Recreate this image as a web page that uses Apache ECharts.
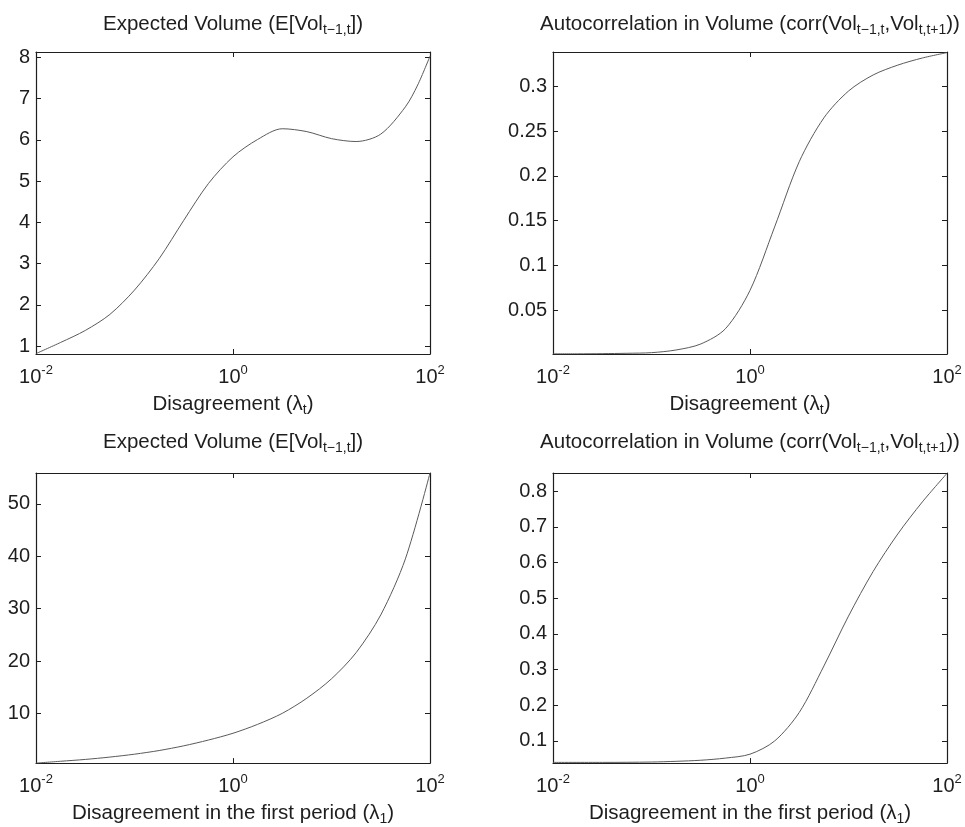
<!doctype html>
<html>
<head>
    <meta charset="utf-8">
    <title>Volume and disagreement</title>
    <script src="https://cdn.jsdelivr.net/npm/echarts@6/dist/echarts.min.js"></script>
</head>
<body style="margin:0;background:#fff;">
    <div id="main" style="width:965px;height:827px;"></div>
    <script type="text/javascript">
        // x values are log10(lambda)
        var tlExp = [-2, -1.75, -1.5, -1.25, -1, -0.75, -0.5, -0.25, 0, 0.25, 0.5, 0.75, 1, 1.25, 1.5, 1.75, 1.875, 2];
        var tlVol = [0.82, 1.09, 1.38, 1.77, 2.36, 3.12, 4.05, 4.94, 5.59, 6.01, 6.27, 6.20, 6.03, 5.96, 6.14, 6.80, 7.33, 8.03];

        var trExp = [-2, -1.75, -1.5, -1.25, -1, -0.75, -0.5, -0.25, 0, 0.25, 0.5, 0.75, 1, 1.25, 1.5, 1.75, 2];
        var trCorr = [0.001, 0.001, 0.0012, 0.0016, 0.0023, 0.0053, 0.012, 0.029, 0.072, 0.143, 0.216, 0.265, 0.295, 0.313, 0.324, 0.332, 0.338];

        var blExp = [-2, -1.75, -1.5, -1.25, -1, -0.75, -0.5, -0.25, 0, 0.25, 0.5, 0.75, 1, 1.25, 1.5, 1.75, 2];
        var blVol = [0.5, 0.85, 1.2, 1.65, 2.2, 2.9, 3.8, 4.9, 6.2, 7.9, 10.0, 12.9, 16.6, 21.6, 28.8, 39.5, 55.9];

        var brExp = [-2, -1.5, -1, -0.75, -0.5, -0.25, 0, 0.25, 0.5, 0.75, 1, 1.25, 1.5, 1.75, 2];
        var brCorr = [0.040, 0.040, 0.041, 0.043, 0.046, 0.052, 0.063, 0.10, 0.18, 0.31, 0.45, 0.575, 0.68, 0.77, 0.85];

        var FONT = '"Liberation Sans", Arial, Helvetica, sans-serif';
        var INK = '#1e1e1e';

        var chart = echarts.init(document.getElementById('main'));

        var grids = [
            {left: 36, top: 52, width: 394, height: 302},
            {left: 553, top: 52, width: 394, height: 302},
            {left: 36, top: 473, width: 394, height: 299},
            {left: 553, top: 473, width: 394, height: 299}
        ];
        var yRange = [
            {min: 0.81, max: 8.13, split: 7},
            {min: 0.0008, max: 0.3387, split: 7},
            {min: 0.5, max: 55.9, split: 5},
            {min: 0.038, max: 0.851, split: 8}
        ];
        var xNames = [
            'Disagreement (λ{sub|t})',
            'Disagreement (λ{sub|t})',
            'Disagreement in the first period (λ{sub|1})',
            'Disagreement in the first period (λ{sub|1})'
        ];
        var curves = [[tlExp, tlVol], [trExp, trCorr], [blExp, blVol], [brExp, brCorr]];

        var line = {show: true, onZero: false, lineStyle: {color: INK, width: 1.2}};
        var tick = {show: true, inside: true, length: 5, lineStyle: {color: INK, width: 1}};

        var xAxes = [], yAxes = [], series = [];
        grids.forEach(function (g, i) {
            xAxes.push({
                type: 'value', gridIndex: i, position: 'bottom',
                min: -2, max: 2, interval: 2,
                axisLine: line, axisTick: tick, splitLine: {show: false},
                axisLabel: {
                    margin: 10, color: INK, fontFamily: FONT, fontSize: 20, lineHeight: 26,
                    formatter: function (v) { return '10{sup|' + v + '}'; },
                    rich: {sup: {fontSize: 13, lineHeight: 6, verticalAlign: 'top', fontFamily: FONT, color: INK}}
                },
                name: xNames[i], nameLocation: 'middle', nameGap: 31,
                nameTextStyle: {
                    color: INK, fontFamily: FONT, fontSize: 20.5, lineHeight: 26,
                    rich: {sub: {fontSize: 14, lineHeight: 10, verticalAlign: 'bottom', fontFamily: FONT, color: INK}}
                }
            });
            xAxes.push({
                type: 'value', gridIndex: i, position: 'top',
                min: -2, max: 2, interval: 2,
                axisLine: line, axisTick: tick, axisLabel: {show: false}, splitLine: {show: false}
            });
            var r = yRange[i];
            yAxes.push({
                type: 'value', gridIndex: i, position: 'left',
                min: r.min, max: r.max, splitNumber: r.split,
                axisLine: line, axisTick: tick, splitLine: {show: false},
                axisLabel: {margin: 6, color: INK, fontFamily: FONT, fontSize: 20, showMinLabel: false, showMaxLabel: false}
            });
            yAxes.push({
                type: 'value', gridIndex: i, position: 'right',
                min: r.min, max: r.max, splitNumber: r.split,
                axisLine: line, axisTick: tick, axisLabel: {show: false}, splitLine: {show: false}
            });
            var pts = curves[i][0].map(function (e, k) { return [e, curves[i][1][k]]; });
            series.push({
                type: 'line', xAxisIndex: i * 2, yAxisIndex: i * 2,
                data: pts, showSymbol: false, smooth: 0.3, silent: true,
                lineStyle: {color: '#5a5a5a', width: 1}
            });
        });

        var subRich = {sub: {fontSize: 14, lineHeight: 10, verticalAlign: 'bottom', fontFamily: FONT, fill: INK}};
        function titleText(x, y, text) {
            return {
                type: 'text', x: x, y: y, silent: true,
                style: {
                    text: text, align: 'center', verticalAlign: 'middle',
                    fontFamily: FONT, fontSize: 20.5, lineHeight: 26, fill: INK, rich: subRich
                }
            };
        }

        chart.setOption({
            animation: false,
            backgroundColor: '#fff',
            grid: grids,
            xAxis: xAxes,
            yAxis: yAxes,
            series: series,
            graphic: [
                titleText(233, 24, 'Expected Volume (E[Vol{sub|t−1,t}])'),
                titleText(750, 24, 'Autocorrelation in Volume (corr(Vol{sub|t−1,t},Vol{sub|t,t+1}))'),
                titleText(233, 442, 'Expected Volume (E[Vol{sub|t−1,t}])'),
                titleText(750, 442, 'Autocorrelation in Volume (corr(Vol{sub|t−1,t},Vol{sub|t,t+1}))')
            ]
        });
    </script>
</body>
</html>
